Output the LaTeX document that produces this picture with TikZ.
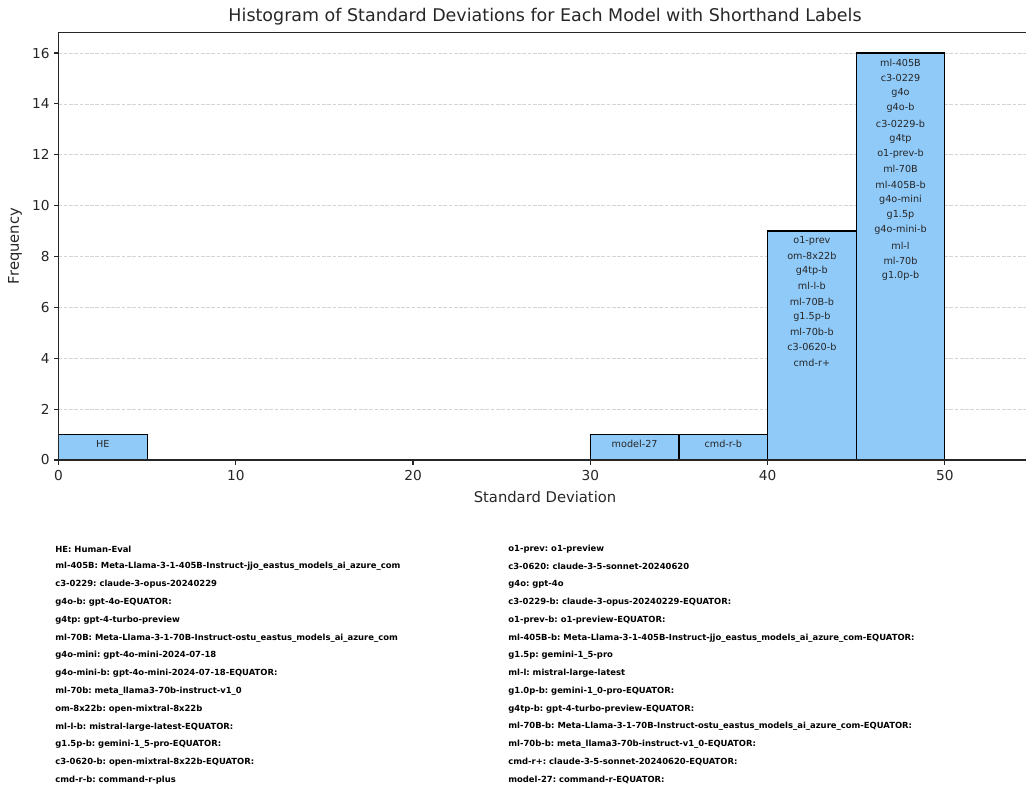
\documentclass[tikz,border=0pt]{standalone}
\usepackage{fontspec}
\setmainfont{DejaVu Sans}
\frenchspacing
\definecolor{barblue}{RGB}{144,202,249}
\definecolor{gridgray}{RGB}{212,212,212}
\definecolor{spine}{RGB}{38,38,38}
\begin{document}
\begin{tikzpicture}[x=0.02cm,y=-0.02cm,
  bar/.style={draw=black,fill=barblue,line width=0.7pt},
  barlabel/.style={font=\fontsize{5.5}{6}\selectfont,inner sep=0pt,text=black!85},
  ticklabel/.style={font=\fontsize{7.8}{9}\selectfont,inner sep=0pt,text=black!85},
  axislabel/.style={font=\fontsize{8.4}{10}\selectfont,inner sep=0pt,text=black!85},
  legend/.style={font=\fontsize{4.8}{5.5}\selectfont\bfseries,anchor=west,inner sep=0pt}]
\useasboundingbox (0,0) rectangle (1026,790);

\node[font=\fontsize{9.95}{11}\selectfont,text=black!85] (title) at (545,17) {Histogram of Standard Deviations for Each Model with Shorthand Labels};
\node[axislabel] (xlab) at (545,497) {Standard Deviation};
\node[axislabel,rotate=90] (ylab) at (15,246) {Frequency};

\begin{scope}[shift={(58.5,460)},x=0.3546cm,y=0.5088cm]
\foreach \f in {2,4,...,16}
  \draw[gridgray,line width=0.45pt,dash pattern=on 2.1pt off 0.9pt] (0,\f) -- (54.57,\f);

\draw[bar] (0,0) rectangle (5,1);
\draw[bar] (30,0) rectangle (35,1);
\draw[bar] (35,0) rectangle (40,1);
\draw[bar] (40,0) rectangle (45,9);
\draw[bar] (45,0) rectangle (50,16);

\node[barlabel] (he) at (2.5,0.63) {HE};
\node[barlabel] (m27) at (32.5,0.63) {model-27};
\node[barlabel] (cmdrb) at (37.5,0.63) {cmd-r-b};
\foreach \lab [count=\i from 0] in {o1-prev,om-8x22b,g4tp-b,ml-l-b,ml-70B-b,g1.5p-b,ml-70b-b,c3-0620-b,cmd-r+}
  \node[barlabel] (lo\i) at (42.5,{8.63-0.6*\i}) {\lab};
\foreach \lab [count=\i from 0] in {ml-405B,c3-0229,g4o,g4o-b,c3-0229-b,g4tp,o1-prev-b,ml-70B,ml-405B-b,g4o-mini,g1.5p,g4o-mini-b,ml-l,ml-70b,g1.0p-b}
  \node[barlabel] (hi\i) at (47.5,{15.63-0.6*\i}) {\lab};

\draw[spine,line width=0.63pt] (54.57,0) -- (0,0) -- (0,16.8) -- (54.57,16.8);
\foreach \f in {0,2,...,16} {
  \draw[spine,line width=0.63pt] (0,\f) -- ++(-0.098cm,0pt);
  \node[ticklabel,anchor=east] (yt\f) at ([xshift=-0.17cm]0,\f) {\f};
}
\foreach \v in {0,10,...,50} {
  \draw[spine,line width=0.63pt] (\v,0) -- ++(0pt,-0.098cm);
  \node[ticklabel,anchor=north] (xt\v) at ([yshift=-0.2cm]\v,0) {\v};
}
\end{scope}

\foreach \txt [count=\i from 0] in {HE: Human-Eval,
  ml-405B: Meta-Llama-3-1-405B-Instruct-jjo\_eastus\_models\_ai\_azure\_com,
  c3-0229: claude-3-opus-20240229,
  g4o-b: gpt-4o-EQUATOR:,
  g4tp: gpt-4-turbo-preview,
  ml-70B: Meta-Llama-3-1-70B-Instruct-ostu\_eastus\_models\_ai\_azure\_com,
  g4o-mini: gpt-4o-mini-2024-07-18,
  g4o-mini-b: gpt-4o-mini-2024-07-18-EQUATOR:,
  ml-70b: meta\_llama3-70b-instruct-v1\_0,
  om-8x22b: open-mixtral-8x22b,
  ml-l-b: mistral-large-latest-EQUATOR:,
  g1.5p-b: gemini-1\_5-pro-EQUATOR:,
  c3-0620-b: open-mixtral-8x22b-EQUATOR:,
  cmd-r-b: command-r-plus}
  \node[legend] (la\i) at (55,{549+17.77*\i}) {\txt};

\foreach \txt [count=\i from 0] in {o1-prev: o1-preview,
  c3-0620: claude-3-5-sonnet-20240620,
  g4o: gpt-4o,
  c3-0229-b: claude-3-opus-20240229-EQUATOR:,
  o1-prev-b: o1-preview-EQUATOR:,
  ml-405B-b: Meta-Llama-3-1-405B-Instruct-jjo\_eastus\_models\_ai\_azure\_com-EQUATOR:,
  g1.5p: gemini-1\_5-pro,
  ml-l: mistral-large-latest,
  g1.0p-b: gemini-1\_0-pro-EQUATOR:,
  g4tp-b: gpt-4-turbo-preview-EQUATOR:,
  ml-70B-b: Meta-Llama-3-1-70B-Instruct-ostu\_eastus\_models\_ai\_azure\_com-EQUATOR:,
  ml-70b-b: meta\_llama3-70b-instruct-v1\_0-EQUATOR:,
  cmd-r+: claude-3-5-sonnet-20240620-EQUATOR:,
  model-27: command-r-EQUATOR:}
  \node[legend] (lb\i) at (508,{549+17.77*\i}) {\txt};

\end{tikzpicture}
\end{document}
